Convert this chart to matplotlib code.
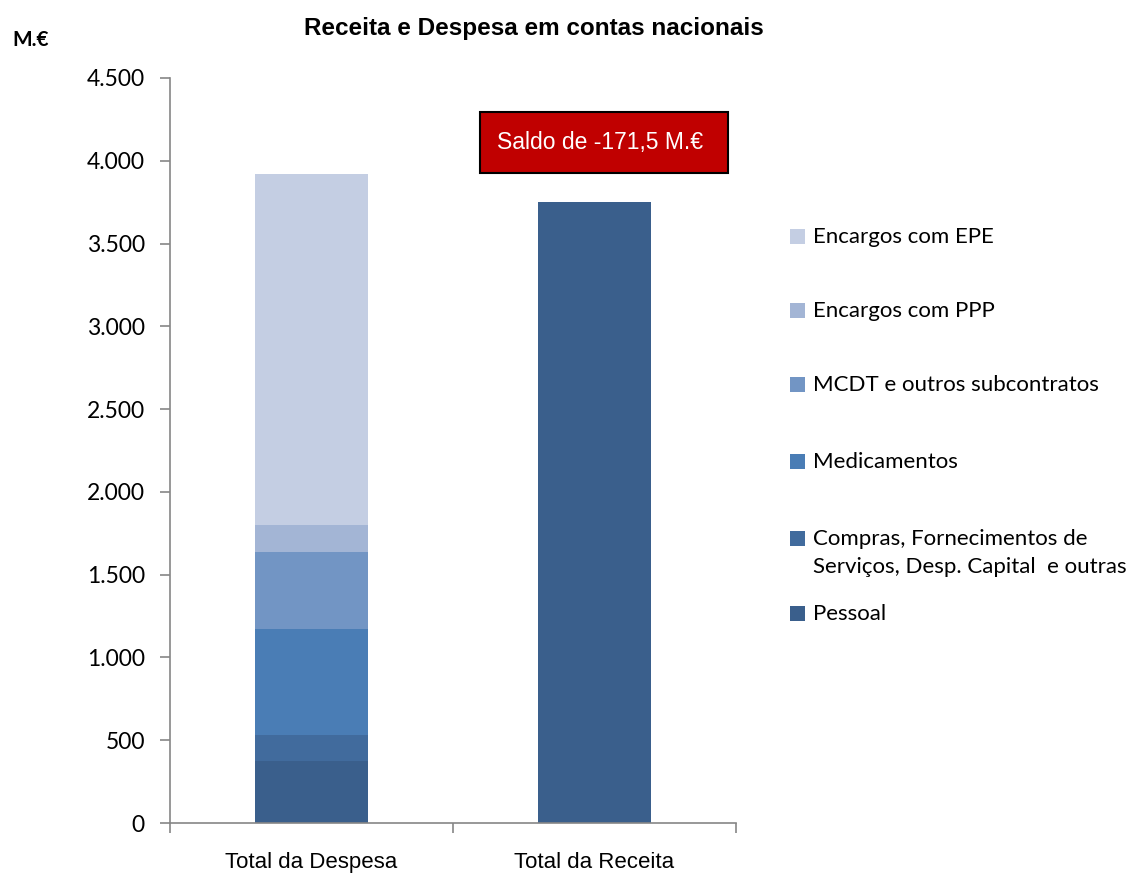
import matplotlib
matplotlib.use("Agg")
import matplotlib.pyplot as plt
from matplotlib.patches import Rectangle
from matplotlib.ticker import FuncFormatter

CATEGORIES = ["Total da Despesa", "Total da Receita"]

# despesa components, bottom to top
COMPONENTS = [
    "Pessoal",
    "Compras, Fornecimentos de\nServiços, Desp. Capital  e outras",
    "Medicamentos",
    "MCDT e outros subcontratos",
    "Encargos com PPP",
    "Encargos com EPE",
]
DESPESA = [374, 157, 641, 465, 163, 2122]
RECEITA = 3750.5
SALDO_LABEL = "Saldo de -171,5 M.€"

COLORS = ["#3A5F8C", "#416B9D", "#4A7DB5", "#7295C4", "#A3B5D5", "#C4CEE3"]
RECEITA_COLOR = "#3A5F8C"
AXIS_GRAY = "#868686"

NARROW = ["Liberation Sans Narrow", "Liberation Sans", "DejaVu Sans"]
CAL = ["Lato", "DejaVu Sans"]

fig = plt.figure(figsize=(11.38, 8.73), dpi=100)
ax = fig.add_axes([170 / 1138, 1 - 823 / 873, 566 / 1138, 745 / 873])

x = [0, 1]
bottom = 0
for val, col in zip(DESPESA, COLORS):
    ax.bar(x[0], val, bottom=bottom, width=0.4, color=col, linewidth=0)
    bottom += val
ax.bar(x[1], RECEITA, width=0.4, color=RECEITA_COLOR, linewidth=0)

ax.set_xlim(-0.5, 1.5)
ax.set_ylim(0, 4500)
ax.set_yticks(range(0, 4501, 500))
ax.yaxis.set_major_formatter(FuncFormatter(lambda v, p: f"{int(v):,}".replace(",", ".")))
ax.set_xticks([-0.5, 0.5, 1.5], minor=False)
ax.set_xticklabels([])
ax.set_xticks(x, minor=True)
ax.set_xticklabels(CATEGORIES, minor=True, fontfamily=NARROW, fontsize=16)
ax.tick_params(axis="x", which="minor", length=0, pad=21)
ax.tick_params(axis="x", which="major", length=7, color=AXIS_GRAY, width=1.2, direction="out")
ax.tick_params(axis="y", length=7, color=AXIS_GRAY, width=1.2, direction="out", pad=11)
for lbl in ax.get_yticklabels():
    lbl.set_fontfamily(CAL)
    lbl.set_fontsize(16.5)
for s in ["top", "right"]:
    ax.spines[s].set_visible(False)
for s in ["left", "bottom"]:
    ax.spines[s].set_color(AXIS_GRAY)
    ax.spines[s].set_linewidth(1.2)

# title and unit
fig.text(534 / 1138, 1 - 28 / 873, "Receita e Despesa em contas nacionais",
         ha="center", va="center", fontsize=17.5, fontweight="bold", fontfamily=NARROW)
fig.text(12 / 1138, 1 - 40 / 873, "M.€", ha="left", va="center",
         fontsize=15, fontweight="bold", fontfamily=CAL)

# saldo box
fig.patches.append(Rectangle((480 / 1138, 1 - 173 / 873), 248 / 1138, 61 / 873,
                             transform=fig.transFigure, facecolor="#C00000",
                             edgecolor="black", linewidth=1.5))
fig.text(600 / 1138, 1 - 142 / 873, SALDO_LABEL, ha="center", va="center",
         color="white", fontsize=16.5, fontfamily=NARROW)

# legend, top to bottom
legend_y = [237, 311, 385, 462, 553, 614]
for name, col, yy in zip(COMPONENTS[::-1], COLORS[::-1], legend_y):
    first_line_y = yy - 14 if "\n" in name else yy
    fig.patches.append(Rectangle((790 / 1138, 1 - (first_line_y + 7) / 873), 15 / 1138, 15 / 873,
                                 transform=fig.transFigure, facecolor=col, edgecolor="none"))
    fig.text(813 / 1138, 1 - yy / 873, name, ha="left", va="center", fontsize=16,
             fontfamily=CAL, linespacing=1.45)

fig.savefig("out.png", dpi=100)
